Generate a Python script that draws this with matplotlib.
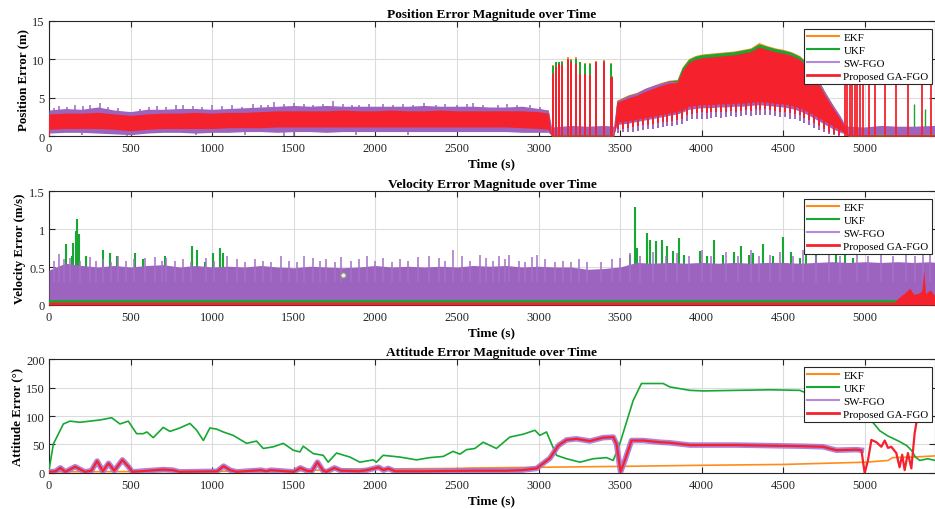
import numpy as np
import matplotlib
matplotlib.use("Agg")
import matplotlib.pyplot as plt
from matplotlib.lines import Line2D

plt.rcParams['font.family'] = ['Liberation Serif', 'DejaVu Serif']

# ---------------- colours ----------------
C_EKF = "#FF8C1A"
C_UKF = "#16A832"
C_SW = "#9C64BE"
C_SW_LEG = "#B48ADB"
C_GA = "#F5222D"

# ---------------- position error (envelopes) ----------------
POS_T = [0, 100, 200, 300, 400, 500, 600, 700, 800, 900, 1000, 1100, 1200, 1300, 1400, 1500,
         1600, 1700, 1800, 1900, 2000, 2100, 2200, 2300, 2400, 2500, 2600, 2700, 2800, 2900,
         3000, 3060,
         3080, 3200, 3300, 3400, 3460,
         3480, 3550, 3600, 3650, 3700, 3750, 3800, 3850, 3880, 3920, 3960, 4000, 4050, 4100,
         4150, 4200, 4250, 4300, 4350, 4400, 4450, 4500, 4550, 4600, 4650, 4700, 4750, 4800,
         4850, 4880,
         4900, 5000, 5100, 5200, 5300, 5430]
GA_LO = [0.9, 1.0, 1.0, 1.0, 0.9, 0.7, 0.9, 1.0, 1.0, 1.0, 1.0, 1.1, 1.1, 1.1, 1.2, 1.2,
         1.2, 1.2, 1.2, 1.2, 1.2, 1.2, 1.2, 1.2, 1.2, 1.2, 1.2, 1.2, 1.2, 1.1,
         1.0, 0.9,
         0.0, 0.0, 0.0, 0.0, 0.0,
         1.8, 2.0, 2.2, 2.4, 2.6, 2.8, 3.0, 3.2, 3.4, 3.9, 4.0, 4.1, 4.1, 4.2,
         4.2, 4.3, 4.3, 4.4, 4.5, 4.4, 4.3, 4.2, 4.0, 3.7, 3.2, 2.6, 2.0, 1.4,
         0.8, 0.4,
         0.0, 0.0, 0.0, 0.0, 0.0, 0.0]
GA_HI = [2.9, 3.0, 3.0, 3.1, 2.9, 2.7, 2.9, 3.0, 3.0, 3.1, 3.0, 3.1, 3.1, 3.2, 3.3, 3.3,
         3.3, 3.3, 3.4, 3.3, 3.3, 3.4, 3.3, 3.3, 3.4, 3.3, 3.3, 3.3, 3.3, 3.3,
         3.2, 3.0,
         0.15, 0.15, 0.15, 0.15, 0.15,
         4.4, 5.0, 5.3, 5.8, 6.2, 6.6, 6.9, 7.0, 8.5, 9.6, 10.0, 10.2, 10.3, 10.4,
         10.5, 10.6, 10.8, 11.0, 11.6, 11.3, 11.0, 10.8, 10.5, 10.0, 9.0, 7.5, 5.5, 3.8,
         2.2, 1.0,
         0.15, 0.2, 0.15, 0.2, 0.2, 0.2]
SW_LO = [0.4, 0.5, 0.5, 0.4, 0.3, 0.2, 0.4, 0.5, 0.5, 0.4, 0.5, 0.5, 0.6, 0.6, 0.5, 0.6,
         0.6, 0.5, 0.6, 0.6, 0.6, 0.6, 0.6, 0.6, 0.6, 0.6, 0.6, 0.6, 0.6, 0.5,
         0.5, 0.5,
         0.1, 0.2, 0.2, 0.2, 0.1,
         1.5, 1.7, 1.9, 2.1, 2.3, 2.5, 2.7, 2.9, 3.1, 3.5, 3.6, 3.7, 3.7, 3.8,
         3.8, 3.9, 3.9, 4.0, 4.1, 4.0, 3.9, 3.8, 3.6, 3.3, 2.8, 2.2, 1.6, 1.0,
         0.5, 0.3,
         0.2, 0.2, 0.3, 0.2, 0.2, 0.3]
SW_HI = [3.4, 3.6, 3.5, 3.8, 3.4, 3.2, 3.5, 3.5, 3.6, 3.6, 3.5, 3.6, 3.7, 3.8, 3.9, 4.0,
         3.9, 4.0, 3.9, 3.9, 3.9, 3.9, 3.9, 4.0, 3.9, 3.9, 3.9, 3.8, 3.8, 3.9,
         3.6, 3.4,
         1.2, 1.4, 1.3, 1.4, 1.3,
         4.6, 5.3, 5.6, 6.2, 6.6, 6.9, 7.2, 7.1, 8.4, 9.5, 9.9, 10.1, 10.2, 10.3,
         10.4, 10.5, 10.6, 10.9, 11.5, 11.2, 10.9, 10.8, 10.5, 10.0, 9.1, 7.8, 5.9, 4.2,
         2.6, 1.4,
         1.3, 1.2, 1.4, 1.3, 1.3, 1.4]
UKF_HI = [3.2, 3.3, 3.3, 3.4, 3.2, 3.0, 3.2, 3.3, 3.3, 3.4, 3.3, 3.4, 3.4, 3.5, 3.6, 3.6,
          3.6, 3.6, 3.7, 3.6, 3.6, 3.7, 3.6, 3.6, 3.7, 3.6, 3.6, 3.6, 3.6, 3.6,
          3.5, 3.3,
          0.3, 0.3, 0.3, 0.3, 0.3,
          4.6, 5.3, 5.6, 6.1, 6.5, 6.9, 7.2, 7.3, 8.9, 10.0, 10.4, 10.6, 10.7, 10.8,
          10.9, 11.0, 11.2, 11.4, 12.0, 11.7, 11.4, 11.2, 10.9, 10.4, 9.4, 7.9, 5.9, 4.1,
          2.4, 1.1,
          0.3, 0.3, 0.3, 0.3, 0.3, 0.3]
EKF_HI = [3.3, 3.4, 3.4, 3.5, 3.3, 3.1, 3.3, 3.4, 3.4, 3.5, 3.4, 3.5, 3.5, 3.6, 3.7, 3.7,
          3.7, 3.7, 3.8, 3.7, 3.7, 3.8, 3.7, 3.7, 3.8, 3.7, 3.7, 3.7, 3.7, 3.7,
          3.6, 3.4,
          0.3, 0.3, 0.3, 0.3, 0.3,
          4.7, 5.4, 5.7, 6.2, 6.6, 7.0, 7.3, 7.4, 9.0, 10.1, 10.5, 10.7, 10.8, 10.9,
          11.0, 11.1, 11.3, 11.5, 12.2, 11.8, 11.5, 11.3, 11.0, 10.5, 9.5, 8.0, 6.0, 4.2,
          2.5, 1.2,
          0.3, 0.3, 0.3, 0.3, 0.3, 0.3]

# GNSS outage spikes
SPK_T = [3086, 3106, 3127, 3147, 3178, 3202, 3229, 3253, 3284, 3314, 3355, 3400, 3443, 3452]
SPK_GA = [8.1, 9.0, 9.4, 9.2, 10.1, 9.7, 9.4, 8.1, 8.1, 7.9, 9.7, 9.6, 7.7, 7.6]
SPK_UKF = [9.1, 9.6, 9.6, 9.7, 10.1, 9.9, 10.1, 9.6, 9.4, 9.4, 9.7, 9.8, 9.4, 7.7]
SPK_EKF = [9.2, 9.7, 9.7, 9.8, 10.3, 10.0, 10.3, 9.7, 9.5, 9.5, 9.8, 9.9, 9.5, 7.8]
SPK2_T = [4877, 4893, 4908, 4924, 4938, 4952, 4969, 4989, 5026, 5061, 5122, 5193, 5265, 5353, 5408]
SPK2_GA = [9.5, 9.5, 9.4, 9.5, 9.5, 9.4, 9.5, 9.5, 9.4, 9.5, 9.5, 9.4, 9.5, 9.5, 9.4]
SPK3_T = [5300, 5368]
SPK3_UKF = [4.2, 3.5]

# purple peaks / dips in the nominal phase
SWP_T = [30, 60, 110, 160, 210, 250, 310, 360, 420, 560, 610, 660, 720, 780, 820, 880, 940,
         1000, 1060, 1120, 1180, 1250, 1300, 1340, 1380, 1440, 1500, 1560, 1620, 1680, 1740,
         1800, 1860, 1900, 1960, 2050, 2110, 2170, 2230, 2300, 2370, 2430, 2500, 2560, 2600,
         2660, 2750, 2810, 2870, 2950, 3010]
SWP_V = [3.7, 3.9, 3.8, 4.0, 3.9, 4.1, 4.3, 3.8, 3.7, 3.6, 3.8, 3.9, 3.8, 4.0, 4.1, 3.9, 3.8,
         4.0, 3.9, 4.0, 3.8, 4.2, 4.0, 4.1, 4.4, 4.2, 4.3, 4.2, 4.1, 4.2, 4.6,
         4.2, 4.1, 4.1, 4.2, 4.2, 4.1, 4.2, 4.1, 4.3, 4.1, 4.2, 4.1, 4.2, 4.3,
         4.1, 4.0, 4.2, 4.1, 4.1, 3.8]
SWD_T = [200, 480, 520, 900, 1200, 1440, 1500, 1880, 2200]
SWD_V = [0.2, 0.0, 0.1, 0.2, 0.1, 0.0, 0.05, 0.2, 0.2]

# lower teeth of the oscillating band
TOOTH_T = [3490, 3520, 3550, 3580, 3610, 3640, 3670, 3700, 3730, 3760, 3790, 3820, 3850, 3880,
           3910, 3940, 3970, 4000, 4030, 4060, 4090, 4120, 4150, 4180, 4210, 4240, 4270, 4300,
           4330, 4360, 4390, 4420, 4450, 4480, 4510, 4540, 4570, 4600, 4630, 4660, 4690, 4720,
           4750, 4780, 4810, 4840]
TOOTH_GA = [0.9, 1.0, 1.1, 1.2, 1.3, 1.4, 1.5, 1.6, 1.7, 1.8, 1.9, 2.0, 2.1, 2.3,
            2.8, 2.9, 3.0, 3.1, 3.0, 3.1, 3.2, 3.1, 3.2, 3.3, 3.2, 3.3, 3.4, 3.3,
            3.5, 3.4, 3.5, 3.4, 3.3, 3.2, 3.2, 3.0, 2.9, 2.7, 2.4, 2.1, 1.7, 1.3,
            1.0, 0.6, 0.3, 0.1]
TOOTH_SW = [0.4, 0.5, 0.6, 0.6, 0.7, 0.8, 0.9, 1.0, 1.1, 1.2, 1.3, 1.3, 1.4, 1.6,
            2.0, 2.2, 2.2, 2.3, 2.2, 2.4, 2.5, 2.4, 2.5, 2.6, 2.5, 2.6, 2.7, 2.6,
            2.8, 2.7, 2.8, 2.7, 2.6, 2.5, 2.5, 2.3, 2.2, 2.0, 1.7, 1.4, 1.1, 0.8,
            0.5, 0.3, 0.1, 0.0]

# ---------------- velocity error ----------------
VEL_T = list(range(0, 5500, 100))[:55] + [5430]
VEL_SW_TOP = [0.46, 0.55, 0.52, 0.50, 0.52, 0.50, 0.52, 0.53, 0.50, 0.52, 0.50, 0.51, 0.50,
              0.52, 0.50, 0.49, 0.51, 0.50, 0.49, 0.50, 0.52, 0.50, 0.51, 0.50, 0.51, 0.50,
              0.52, 0.51, 0.52, 0.50, 0.51, 0.50, 0.50, 0.47, 0.48, 0.50, 0.56, 0.55, 0.56,
              0.55, 0.56, 0.55, 0.56, 0.55, 0.56, 0.56, 0.55, 0.56, 0.57, 0.56, 0.57, 0.56,
              0.57, 0.56, 0.57, 0.56]
VEL_SWP_T = [30, 60, 95, 130, 190, 250, 290, 330, 380, 420, 470, 520, 590, 650, 690, 720,
             770, 820, 870, 960, 1010, 1090, 1150, 1200, 1260, 1310, 1360, 1420, 1470, 1520,
             1560, 1620, 1660, 1700, 1750, 1790, 1850, 1900, 1950, 2000, 2050, 2100, 2150,
             2200, 2260, 2330, 2390, 2430, 2473, 2530, 2580, 2641, 2680, 2720, 2760, 2794,
             2820, 2880, 2920, 2960, 2988, 3040, 3100, 3150, 3200, 3250, 3300, 3380, 3450,
             3500, 3560, 3620, 3700, 3780, 3850, 3920, 4000, 4060, 4150, 4220, 4300, 4350,
             4420, 4480, 4560, 4622, 4700, 4780, 4850, 4950, 5020, 5100, 5170, 5250, 5310,
             5357, 5400]
VEL_SWP_V = [0.58, 0.67, 0.60, 0.62, 0.58, 0.63, 0.58, 0.60, 0.57, 0.64, 0.58, 0.60, 0.62,
             0.63, 0.58, 0.62, 0.58, 0.60, 0.57, 0.62, 0.58, 0.65, 0.60, 0.57, 0.61, 0.58,
             0.57, 0.64, 0.58, 0.57, 0.65, 0.62, 0.58, 0.60, 0.57, 0.63, 0.58, 0.61, 0.64,
             0.58, 0.62, 0.57, 0.61, 0.58, 0.63, 0.65, 0.62, 0.58, 0.73, 0.65, 0.58, 0.66,
             0.62, 0.58, 0.64, 0.60, 0.66, 0.58, 0.57, 0.63, 0.66, 0.60, 0.57, 0.58, 0.56,
             0.60, 0.56, 0.57, 0.60, 0.62, 0.68, 0.64, 0.70, 0.64, 0.68, 0.65, 0.72, 0.64,
             0.70, 0.65, 0.72, 0.64, 0.66, 0.70, 0.64, 0.73, 0.65, 0.70, 0.64, 0.70, 0.65,
             0.72, 0.64, 0.70, 0.65, 0.69, 0.72]
VEL_UKF_T = [104, 139, 149, 165, 173, 186, 227, 329, 374, 415, 527, 578, 711, 874, 905, 956,
             1007, 1048, 1068, 3560, 3590, 3605, 3666, 3686, 3723, 3754, 3789, 3826, 3862,
             3891, 3989, 4030, 4075, 4132, 4200, 4244, 4290, 4316, 4377, 4438, 4499, 4550,
             4601, 4642, 4703, 4826, 4880, 4928]
VEL_UKF_V = [0.80, 0.64, 0.82, 0.97, 1.13, 0.93, 0.64, 0.72, 0.69, 0.64, 0.69, 0.60, 0.64,
             0.77, 0.73, 0.57, 0.69, 0.75, 0.69, 0.66, 1.29, 0.75, 0.95, 0.86, 0.84, 0.86,
             0.77, 0.71, 0.88, 0.66, 0.71, 0.64, 0.86, 0.66, 0.70, 0.77, 0.66, 0.68, 0.80,
             0.64, 0.90, 0.70, 0.62, 1.08, 0.79, 0.68, 0.66, 0.62]
VEL_GA_T = [0, 5180, 5210, 5240, 5275, 5300, 5336, 5350, 5361, 5372, 5400, 5430]
VEL_GA_TOP = [0.04, 0.04, 0.10, 0.15, 0.22, 0.14, 0.16, 0.20, 0.47, 0.15, 0.20, 0.12]
VEL_MARK = (1800, 0.40)

# ---------------- attitude error ----------------
ATT_UKF_T = [0, 27, 88, 128, 190, 312, 384, 435, 486, 537, 578, 600, 639, 700, 741, 802, 864,
             905, 946, 986, 1027, 1068, 1129, 1211, 1272, 1313, 1375, 1436, 1497, 1538, 1558,
             1620, 1681, 1711, 1762, 1844, 1905, 1987, 2007, 2048, 2150, 2252, 2334, 2416,
             2477, 2518, 2559, 2610, 2661, 2742, 2824, 2906, 2978, 3008, 3049, 3110, 3172,
             3254, 3335, 3417, 3458, 3498, 3580, 3631, 3764, 3805, 3928, 4009, 4213, 4417,
             4601, 4663, 4750, 4900, 5031, 5092, 5141, 5214, 5257, 5288, 5310, 5337, 5386, 5430]
ATT_UKF = [5, 51, 86, 91, 89, 93, 97, 86, 91, 69, 69, 72, 62, 80, 73, 79, 87,
           75, 57, 79, 77, 72, 66, 52, 56, 43, 46, 52, 40, 37, 47,
           34, 31, 19, 35, 28, 19, 23, 19, 31, 28, 23, 27, 29,
           38, 33, 41, 43, 54, 43, 63, 68, 75, 66, 72, 31, 25,
           19, 25, 27, 22, 51, 127, 157, 157, 151, 145, 144, 145, 146,
           145, 138, 130, 112, 95, 74, 65, 55, 48, 39, 28, 22, 25, 22]
ATT_EKF_T = [0, 500, 1000, 1500, 1824, 2000, 2500, 2580, 3000, 3498, 4000, 4500, 5010, 5143,
             5170, 5300, 5430]
ATT_EKF = [2, 2.5, 3, 3.5, 6.9, 7, 8, 8.7, 10, 11.6, 13.5, 15, 19, 22, 27, 28, 30]
ATT_GA_T = [0, 40, 70, 100, 160, 220, 260, 295, 330, 365, 400, 450, 490, 510, 700, 760, 800,
            1030, 1070, 1110, 1150, 1300, 1330, 1360, 1500, 1540, 1580, 1610, 1645, 1680,
            1700, 1750, 1790, 1900, 1950, 2020, 2050, 2080, 2120, 2300, 2600, 2800, 2900,
            2988, 3070, 3121, 3172, 3233, 3315, 3396, 3458, 3478, 3503, 3529, 3570, 3641,
            3743, 3805, 3928, 4213, 4622, 4744, 4826, 4948, 4979, 4999, 5019, 5040, 5071,
            5101, 5122, 5142, 5162, 5193, 5213, 5229, 5244, 5264, 5285, 5305, 5325, 5345]
ATT_GA = [2, 3, 9, 2, 11, 2, 4, 21, 3, 17, 4, 23, 10, 2, 6, 5, 2,
          3, 12, 5, 2, 5, 3, 5, 2, 9, 4, 3, 19, 4,
          2, 9, 4, 3, 5, 10, 5, 8, 3, 3, 4, 4, 5,
          8, 26, 48, 58, 60, 56, 62, 63, 51, 2, 22, 57, 57,
          54, 53, 49, 49, 47, 46, 40, 41, 40, 0, 22, 58, 54,
          46, 57, 44, 46, 35, 10, 32, 5, 35, 8, 69, 104, 150]
ATT_SW_END = 4985

# ---------------- figure ----------------
fig = plt.figure(figsize=(9.35, 5.10), dpi=100)
XMAX = 5430
ax_pos = fig.add_axes([0.0524, 0.731, 0.9476, 0.226])
ax_vel = fig.add_axes([0.0524, 0.400, 0.9476, 0.2235])
ax_att = fig.add_axes([0.0524, 0.0706, 0.9476, 0.2235])


def style_axes(ax, title, ylabel, yticks, yticklabels, ylim):
    ax.set_xlim(0, XMAX)
    ax.set_ylim(*ylim)
    ax.set_xticks(np.arange(0, 5001, 500))
    ax.set_yticks(yticks)
    ax.set_yticklabels(yticklabels)
    ax.grid(True, color="#DCDCDC", lw=0.8)
    ax.set_axisbelow(True)
    ax.tick_params(direction="in", top=True, right=True, length=4, width=0.8,
                   labelsize=9, colors="#262626")
    ax.tick_params(axis="x", pad=4.5)
    ax.tick_params(axis="y", pad=3)
    for s in ax.spines.values():
        s.set_color("#262626")
        s.set_linewidth(0.8)
    ax.set_title(title, fontsize=9.6, fontweight="bold", pad=3)
    ax.set_ylabel(ylabel, fontsize=9.3, fontweight="bold", labelpad=2)
    ax.set_xlabel("Time (s)", fontsize=9.5, fontweight="bold", labelpad=2)


def add_legend(ax):
    handles = [Line2D([], [], color=C_EKF, lw=1.5),
               Line2D([], [], color=C_UKF, lw=1.5),
               Line2D([], [], color=C_SW_LEG, lw=1.5),
               Line2D([], [], color=C_GA, lw=2.0)]
    leg = ax.legend(handles, ["EKF", "UKF", "SW-FGO", "Proposed GA-FGO"],
                    loc="upper right", bbox_to_anchor=(0.9966, 0.93), fontsize=7.9,
                    frameon=True, fancybox=False, framealpha=1, edgecolor="#262626",
                    handlelength=2.9, handletextpad=0.4, labelspacing=0.3,
                    borderpad=0.3, borderaxespad=0)
    leg.get_frame().set_linewidth(0.8)
    leg.set_zorder(20)


# ---- position ----
ax = ax_pos
ax.fill_between(POS_T, GA_LO, EKF_HI, color=C_EKF, lw=0, zorder=2)
ax.vlines(SPK_T, 0, SPK_EKF, color=C_EKF, lw=1.4, zorder=2)
ax.fill_between(POS_T, GA_LO, UKF_HI, color=C_UKF, lw=0, zorder=3)
ax.vlines(SPK_T, 0, SPK_UKF, color=C_UKF, lw=1.4, zorder=3)
ax.vlines(SPK3_T, 0, SPK3_UKF, color=C_UKF, lw=1.0, zorder=3)
ax.fill_between(POS_T, SW_LO, SW_HI, color=C_SW, lw=0, zorder=4)
ax.vlines(SWP_T, 3.0, SWP_V, color=C_SW, lw=1.1, zorder=4)
ax.vlines(SWD_T, SWD_V, 1.0, color=C_SW, lw=1.1, zorder=4)
tooth_top = np.interp(TOOTH_T, POS_T, GA_LO) + 0.3
ax.vlines(TOOTH_T, TOOTH_SW, tooth_top, color=C_SW, lw=1.4, zorder=4)
ax.fill_between(POS_T, GA_LO, GA_HI, color=C_GA, lw=0, zorder=5)
ax.vlines(TOOTH_T, TOOTH_GA, tooth_top, color=C_GA, lw=1.4, zorder=5)
ax.vlines(SPK_T, 0, SPK_GA, color=C_GA, lw=1.4, zorder=5)
ax.vlines(SPK2_T, 0, SPK2_GA, color=C_GA, lw=1.3, zorder=5)
ax.vlines([0], 0, 2.5, color=C_GA, lw=1.5, zorder=5)
style_axes(ax, "Position Error Magnitude over Time", "Position Error (m)",
           [0, 5, 10, 15], ["0", "5", "10", "15"], (0, 15))
add_legend(ax)

# ---- velocity ----
ax = ax_vel
ax.vlines(VEL_UKF_T, 0, VEL_UKF_V, color=C_UKF, lw=1.5, zorder=2)
ax.fill_between(VEL_T, 0.04, VEL_SW_TOP, color=C_SW, lw=0, zorder=3)
ax.vlines(VEL_SWP_T, 0.3, VEL_SWP_V, color="#A470C6", lw=1.1, zorder=3)
ax.fill_between([0, XMAX], 0, [0.07, 0.07], color=C_UKF, lw=0, zorder=4)
ax.fill_between(VEL_GA_T, 0, VEL_GA_TOP, color=C_GA, lw=0, zorder=5)
ax.scatter([VEL_MARK[0]], [VEL_MARK[1]], s=16, facecolor="#EDEDED",
           edgecolor="#8A8A8A", lw=1.0, zorder=8)
style_axes(ax, "Velocity Error Magnitude over Time", "Velocity Error (m/s)",
           [0, 0.5, 1, 1.5], ["0", "0.5", "1", "1.5"], (0, 1.5))
add_legend(ax)

# ---- attitude ----
ax = ax_att
ax.plot(ATT_EKF_T, ATT_EKF, color=C_EKF, lw=1.2, zorder=3)
ax.plot(ATT_UKF_T, ATT_UKF, color=C_UKF, lw=1.2, zorder=4)
sw_t = [t for t in ATT_GA_T if t <= ATT_SW_END]
sw_v = ATT_GA[:len(sw_t)]
ax.plot(sw_t, sw_v, color="#A874D4", lw=4.0, alpha=0.9, zorder=5,
        solid_joinstyle="round")
ax.plot(ATT_GA_T, ATT_GA, color=C_GA, lw=1.6, zorder=6)
style_axes(ax, "Attitude Error Magnitude over Time", "Attitude Error (°)",
           [0, 50, 100, 150, 200], ["0", "50", "100", "150", "200"], (0, 200))
add_legend(ax)

fig.savefig("out.png", dpi=100)
